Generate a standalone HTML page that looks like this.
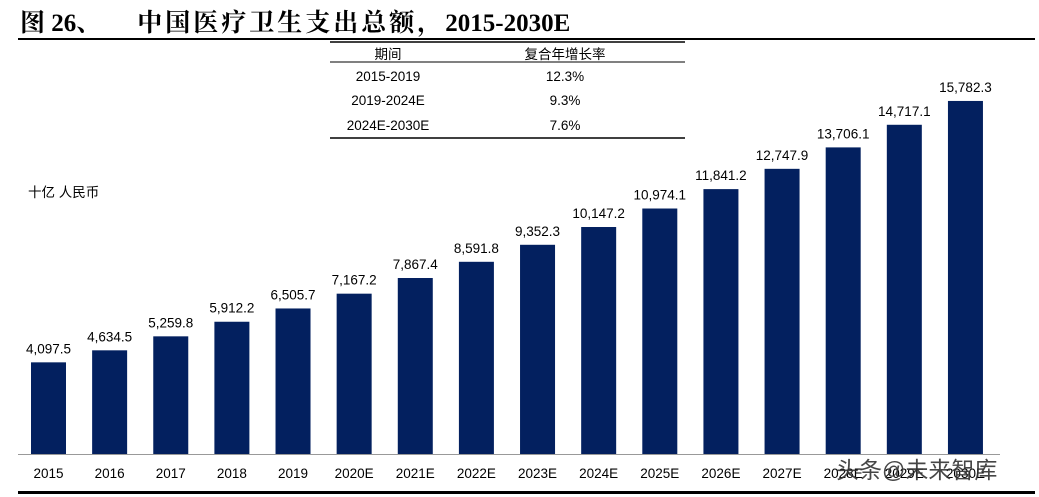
<!DOCTYPE html>
<html><head><meta charset="utf-8"><style>
html,body{margin:0;padding:0;background:#fff;}
body{width:1039px;height:497px;position:relative;overflow:hidden;font-family:"Liberation Sans","Noto Sans CJK SC",sans-serif;}
.t{position:absolute;white-space:nowrap;}
</style></head><body>
<div class="t" style="left:20px;top:3px;font-size:25px;font-weight:bold;font-family:'Liberation Serif','Noto Serif CJK SC',serif;color:#000;">图 26、<span style="display:inline-block;width:36px"></span><span style="letter-spacing:3px">中国医疗卫生支出总额，</span>2015-2030E</div>
<div style="position:absolute;left:18px;top:38px;width:1017px;height:2px;background:#000;"></div>
<svg width="1039" height="497" style="position:absolute;left:0;top:0" font-family="Liberation Sans, Noto Sans CJK SC, sans-serif">
<line x1="330" y1="42" x2="685" y2="42" stroke="#000" stroke-width="1.5"/>
<line x1="330" y1="62" x2="685" y2="62" stroke="#000" stroke-width="1"/>
<line x1="330" y1="138" x2="685" y2="138" stroke="#000" stroke-width="1.5"/>
<g font-size="13.5" text-anchor="middle" fill="#000">
<text x="388" y="59">期间</text><text x="565" y="59">复合年增长率</text>
<text x="388" y="81">2015-2019</text><text x="565" y="81">12.3%</text>
<text x="388" y="105">2019-2024E</text><text x="565" y="105">9.3%</text>
<text x="388" y="130">2024E-2030E</text><text x="565" y="130">7.6%</text>
</g>
<text x="28" y="197" font-size="13.5">十亿 人民币</text>
<line x1="18" y1="454.5" x2="1000" y2="454.5" stroke="#999" stroke-width="1"/>
<g id="bars"></g>
<rect x="18" y="491" width="1017" height="3" fill="#000"/>
<text x="836" y="478" font-size="23" fill="#333" opacity="0.9">头条@未来智库</text>
</svg>
<script>
var v=[4097.5,4634.5,5259.8,5912.2,6505.7,7167.2,7867.4,8591.8,9352.3,10147.2,10974.1,11841.2,12747.9,13706.1,14717.1,15782.3];
var y=["2015","2016","2017","2018","2019","2020E","2021E","2022E","2023E","2024E","2025E","2026E","2027E","2028E","2029E","2030E"];
var g=document.getElementById('bars'),s='';
for(var i=0;i<16;i++){var x=31+i*61.13,h=v[i]*0.02237,cx=x+17.5;
s+='<rect x="'+x+'" y="'+(454-h)+'" width="35" height="'+h+'" fill="#03205F"/>';
s+='<text x="'+cx+'" y="'+(454-h-9)+'" font-size="13.5" text-anchor="middle">'+v[i].toLocaleString('en-US',{minimumFractionDigits:1})+'</text>';
s+='<text x="'+cx+'" y="478" font-size="13.5" text-anchor="middle">'+y[i]+'</text>';}
g.innerHTML=s;
</script>
</body></html>
